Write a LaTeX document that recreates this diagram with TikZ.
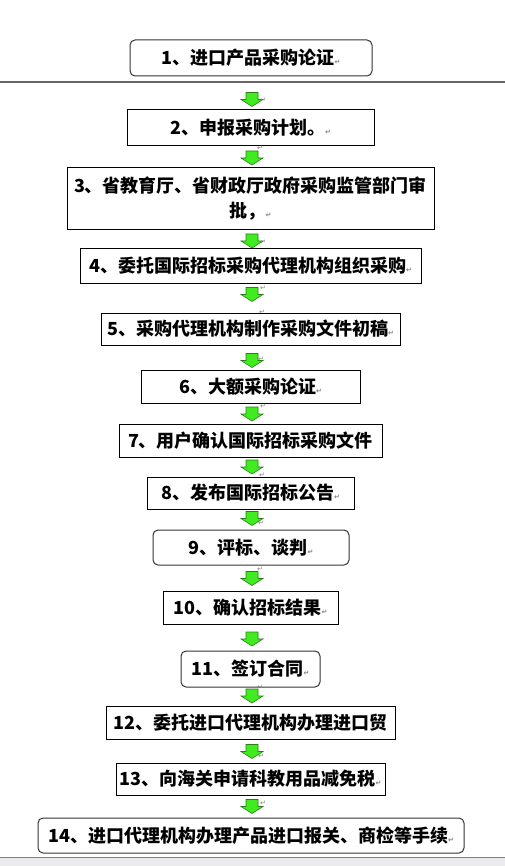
\documentclass[tikz,border=0pt]{standalone}
\usepackage{fontspec}
\setmainfont{Noto Sans CJK SC}
\newfontfamily\dejavu{DejaVu Sans}
\definecolor{arrowgreen}{RGB}{64,235,32}
\definecolor{arrowedge}{RGB}{40,125,25}
\newcommand\pmark{{\dejavu\fontsize{7}{7}\selectfont\color{gray}↵}}

\begin{document}
\begin{tikzpicture}[x=1pt, y=-1pt, line width=1pt,
  box/.style={draw, inner sep=0pt, font=\fontsize{18}{25}\selectfont\bfseries, align=center},
  rbox/.style={box, rounded corners=5pt, draw=black!80},
  garrow/.style={draw=arrowedge, fill=arrowgreen, line width=0.6pt, line join=miter}]
  \useasboundingbox (0,0) rectangle (505,866);
  % 分隔线与底部状态栏
  \draw[gray!80!black, line width=1.5pt] (0,82) -- (505,82);
  \fill[blue!5!gray!15] (0,857) rectangle (505,866);
  \draw[gray, line width=0.6pt] (0,857) -- (505,857);
  % 流程框
  \node[rbox, minimum width=242pt, minimum height=36pt] (s1) at (251,58) {1、进口产品采购论证\pmark};
  \node[box, minimum width=247pt, minimum height=36pt] (s2) at (250.5,128) {2、申报采购计划。\pmark};
  \node[box, minimum width=367pt, minimum height=62pt] (s3) at (250.5,199) {3、省教育厅、省财政厅政府采购监管部门审\\批，\pmark};
  \node[box, minimum width=341pt, minimum height=34pt] (s4) at (250.5,266) {4、委托国际招标采购代理机构组织采购\pmark};
  \node[box, minimum width=299pt, minimum height=32pt] (s5) at (250.5,329) {5、采购代理机构制作采购文件初稿\pmark};
  \node[box, minimum width=219pt, minimum height=33pt] (s6) at (250.5,386.5) {6、大额采购论证\pmark};
  \node[box, minimum width=263pt, minimum height=33pt] (s7) at (250.5,440.5) {7、用户确认国际招标采购文件};
  \node[box, minimum width=207pt, minimum height=32pt] (s8) at (250.5,493) {8、发布国际招标公告\pmark};
  \node[rbox, minimum width=196pt, minimum height=35pt] (s9) at (251,547.5) {9、评标、谈判\pmark};
  \node[box, minimum width=175pt, minimum height=33pt] (s10) at (250.5,607.5) {10、确认招标结果\pmark};
  \node[rbox, minimum width=139pt, minimum height=36pt] (s11) at (250.5,669) {11、签订合同\pmark};
  \node[box, minimum width=289pt, minimum height=33pt] (s12) at (250.5,722.5) {12、委托进口代理机构办理进口贸};
  \node[box, minimum width=269pt, minimum height=32pt] (s13) at (250.5,779) {13、向海关申请科教用品减免税\pmark};
  \node[rbox, minimum width=426pt, minimum height=35pt] (s14) at (251,835.5) {14、进口代理机构办理产品进口报关、商检等手续\pmark};
  % 绿色箭头
  \foreach \y [count=\i] in {99.5,158,241,294.5,360.5,414,467,518.5,578.5,639,696,751.5,806.5} {
    \coordinate (a\i) at (252,\y);
    \filldraw[garrow] (a\i) ++(-6,-7) -- ++(12,0) -- ++(0,7) -- ++(5,0) -- ++(-11,7)
      -- ++(-11,-7) -- ++(5,0) -- cycle;
  }
  % 段落标记
  \foreach \x/\y [count=\i] in {263/100,260/148,263/242,263/288,262/312,261/359,263/406,262/475,
    261/523,260/569,261/640,260/687,261/756,263/803}
    \node[inner sep=0pt] (m\i) at (\x,\y) {\pmark};
\end{tikzpicture}
\end{document}
